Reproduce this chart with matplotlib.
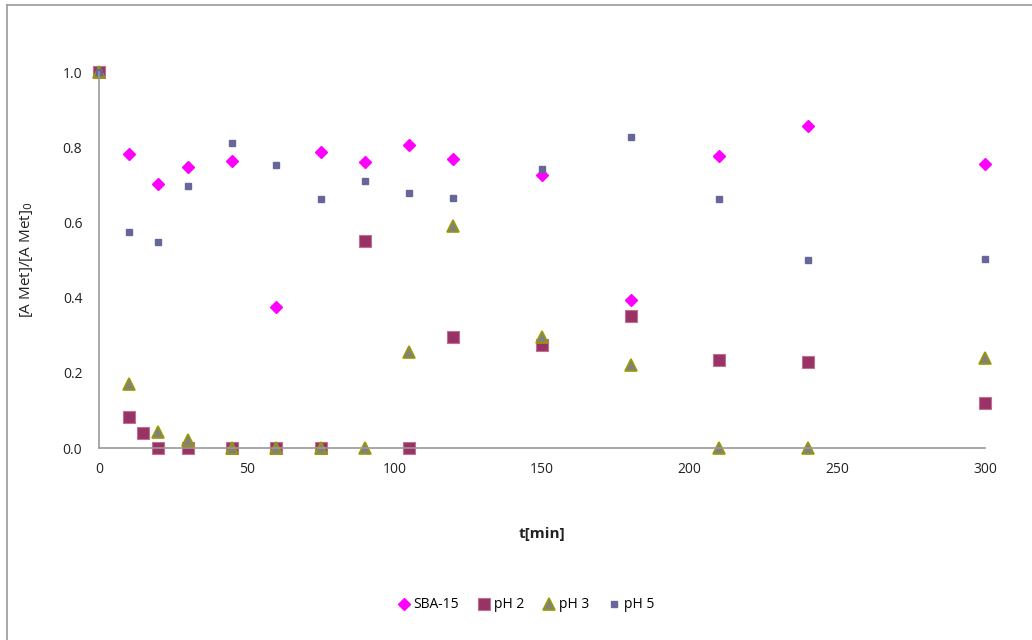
import matplotlib
matplotlib.use('Agg')
import matplotlib.pyplot as plt
from matplotlib.lines import Line2D

# datos
t_sba = [0, 10, 20, 30, 45, 60, 75, 90, 105, 120, 150, 180, 210, 240, 300]
sba15 = [1.0, 0.782, 0.702, 0.747, 0.763, 0.375, 0.787, 0.761, 0.806, 0.769, 0.726, 0.394, 0.777, 0.856, 0.755]

t_ph2 = [0, 10, 15, 20, 30, 45, 60, 75, 90, 105, 120, 150, 180, 210, 240, 300]
ph2 = [1.0, 0.082, 0.040, 0.0, 0.0, 0.0, 0.0, 0.0, 0.551, 0.0, 0.295, 0.274, 0.351, 0.234, 0.229, 0.120]

t_ph3 = [0, 10, 20, 30, 45, 60, 75, 90, 105, 120, 150, 180, 210, 240, 300]
ph3 = [1.0, 0.170, 0.043, 0.021, 0.0, 0.0, 0.0, 0.0, 0.255, 0.590, 0.295, 0.221, 0.0, 0.0, 0.239]

t_ph5 = [0, 10, 20, 30, 45, 60, 75, 90, 105, 120, 150, 180, 210, 240, 300]
ph5 = [1.0, 0.574, 0.548, 0.697, 0.811, 0.753, 0.662, 0.710, 0.678, 0.665, 0.742, 0.827, 0.662, 0.500, 0.503]

xticks = [0, 50, 100, 150, 200, 250, 300]
yticks = [0.0, 0.2, 0.4, 0.6, 0.8, 1.0]

plt.rcParams['font.family'] = ['Open Sans', 'DejaVu Sans']

fig = plt.figure(figsize=(10.32, 6.4), dpi=100)
ax = fig.add_axes([99 / 1032, 1 - 448 / 640, (985 - 99) / 1032, (448 - 72) / 640])

ax.plot(t_sba, sba15, linestyle='none', marker='D', ms=6.3, color='#FF00FF',
        mec='#FF00FF', label='SBA-15', clip_on=False)
ax.plot(t_ph2, ph2, linestyle='none', marker='s', ms=8, color='#993366',
        mec='#C07090', mew=0.8, label='pH 2', clip_on=False)
ax.plot(t_ph3, ph3, linestyle='none', marker='^', ms=8, color='#808080',
        mec='#999900', mew=1.2, label='pH 3', clip_on=False)
ax.plot(t_ph5, ph5, linestyle='none', marker='s', ms=4.5, color='#666699',
        mec='#666699', label='pH 5', clip_on=False)

ax.set_xlim(0, 300)
ax.set_ylim(0, 1.0)
ax.set_xticks(xticks)
ax.set_yticks(yticks)
ax.set_yticklabels(['{:.1f}'.format(v) for v in yticks])
ax.tick_params(length=0, labelsize=10, colors='#222222')
ax.tick_params(axis='x', pad=10)
ax.tick_params(axis='y', pad=12)

for s in ['top', 'right']:
    ax.spines[s].set_visible(False)
for s in ['left', 'bottom']:
    ax.spines[s].set_color('#999999')
    ax.spines[s].set_linewidth(1.2)

ax.set_xlabel('t[min]', fontsize=11, fontweight='bold', color='#222222', labelpad=36)
ax.set_ylabel('[A Met]/[A Met]$_0$', fontsize=11, color='#222222', labelpad=20)

ax.legend(loc='center', bbox_to_anchor=(525 / 1032, 1 - 605 / 640),
          bbox_transform=fig.transFigure, ncol=4, frameon=False, fontsize=10,
          handletextpad=0.1, columnspacing=1.2, handlelength=1.2)

# borde del area de la grafica
fig.add_artist(Line2D([7 / 1032, 7 / 1032], [0, 1 - 5 / 640], color='#999999', lw=1.2))
fig.add_artist(Line2D([7 / 1032, 1], [1 - 5 / 640, 1 - 5 / 640], color='#999999', lw=1.2))

fig.savefig('out.png', dpi=100)
